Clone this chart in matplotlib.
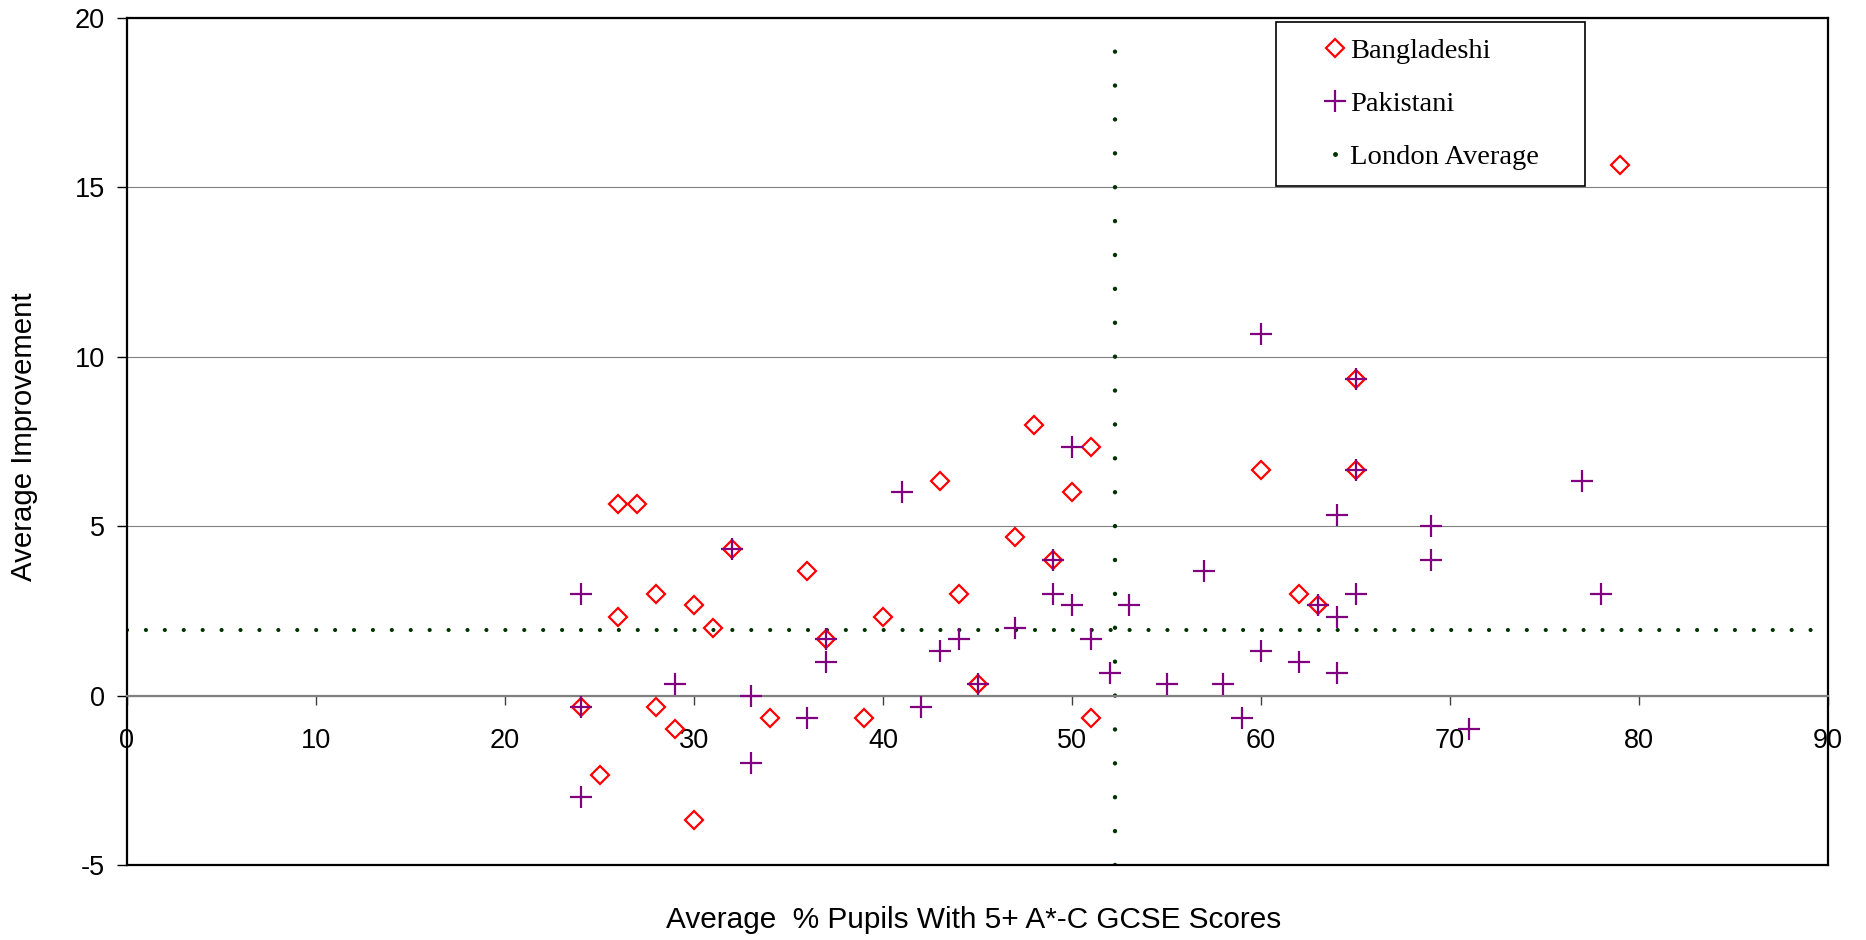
import matplotlib.pyplot as plt
from matplotlib.lines import Line2D


# Bangladeshi: % pupils with 5+ A*-C and average improvement
bang_x = [24, 25, 26, 26, 27, 28, 28, 29, 30, 30, 31, 32, 34, 36, 37, 39, 40,
          43, 44, 45, 47, 48, 49, 50, 51, 51, 60, 62, 63, 65, 65, 79]
bang_y = [-0.33, -2.33, 5.67, 2.33, 5.67, 3, -0.33, -1, 2.67, -3.67, 2, 4.33,
          -0.67, 3.67, 1.67, -0.67, 2.33, 6.33, 3, 0.33, 4.67, 8, 4, 6, 7.33,
          -0.67, 6.67, 3, 2.67, 9.33, 6.67, 15.67]

# Pakistani
pak_x = [24, 24, 24, 29, 32, 33, 33, 36, 37, 37, 41, 42, 43, 44, 45, 47, 49,
         49, 50, 50, 51, 52, 53, 55, 57, 58, 59, 60, 60, 62, 63, 64, 64, 64,
         65, 65, 65, 69, 69, 71, 77, 78]
pak_y = [3, -0.33, -3, 0.33, 4.33, 0, -2, -0.67, 1.67, 1, 6, -0.33, 1.33, 1.67,
         0.33, 2, 4, 3, 7.33, 2.67, 1.67, 0.67, 2.67, 0.33, 3.67, 0.33, -0.67,
         10.67, 1.33, 1, 2.67, 5.33, 2.33, 0.67, 9.33, 6.67, 3, 5, 4, -1, 6.33, 3]

# London average (x and y)
london_x = 52.25
london_y = 1.94

x_ticks = [0, 10, 20, 30, 40, 50, 60, 70, 80, 90]
y_ticks = [-5, 0, 5, 10, 15, 20]

plt.rcParams['font.family'] = ['Liberation Sans', 'DejaVu Sans']
plt.rcParams['lines.scale_dashes'] = False
plt.rcParams['axes.unicode_minus'] = False

W, H = 1866, 940
fig = plt.figure(figsize=(W / 100, H / 100), dpi=100)
ax = fig.add_axes([127 / W, 1 - 865 / H, (1828 - 127) / W, (865 - 18) / H])

ax.set_xlim(0, 90)
ax.set_ylim(-5, 20)

# gridlines
ax.set_axisbelow(True)
ax.yaxis.grid(True, color='#808080', lw=0.8)

# London average dotted cross, one dot per unit
green = '#003300'
ax.axvline(london_x, color=green, lw=3.2, linestyle=(0, (0.01, 24.39)),
           dash_capstyle='round', zorder=2)
ax.axhline(london_y, color=green, lw=3.0, linestyle=(0, (0.01, 13.61)),
           dash_capstyle='round', zorder=2)

ax.plot(bang_x, bang_y, linestyle='none', marker='D', markersize=8.8,
        markerfacecolor='none', markeredgecolor='#FF0000', markeredgewidth=1.6,
        zorder=3)
ax.plot(pak_x, pak_y, linestyle='none', marker='+', markersize=16,
        markeredgecolor='#800080', markeredgewidth=1.6, zorder=4)

# frame: x axis runs along y=0, box closed at y=-5
for s in ['left', 'top', 'right']:
    ax.spines[s].set_color('black')
    ax.spines[s].set_linewidth(1.6)
ax.spines['bottom'].set_position(('data', 0))
ax.spines['bottom'].set_color('#808080')
ax.spines['bottom'].set_linewidth(1.6)
ax.axhline(-5, color='black', lw=1.6, clip_on=False, zorder=5)

ax.set_xticks(x_ticks)
ax.set_yticks(y_ticks)
ax.tick_params(axis='x', direction='out', length=6.5, width=1, color='#404040',
               pad=16.5, labelsize=19.5)
ax.tick_params(axis='y', direction='out', length=7, width=1, color='black',
               pad=9, labelsize=19.5)

fig.text(974 / W, 1 - 920 / H, 'Average  % Pupils With 5+ A*-C GCSE Scores',
         ha='center', va='center', fontsize=21.4)
fig.text(24 / W, 1 - 437 / H, 'Average Improvement', rotation=90,
         ha='center', va='center', fontsize=21.2)

handles = [
    Line2D([], [], linestyle='none', marker='D', markersize=8.8,
           markerfacecolor='none', markeredgecolor='#FF0000', markeredgewidth=1.6),
    Line2D([], [], linestyle='none', marker='+', markersize=16,
           markeredgecolor='#800080', markeredgewidth=1.6),
    Line2D([], [], linestyle='none', marker='o', markersize=2.5,
           color=green),
]
labels = ['Bangladeshi', 'Pakistani', 'London Average']
leg = fig.legend(handles, labels, loc='upper left',
                 bbox_to_anchor=(1276 / W, 1 - 23 / H, (1585 - 1276) / W, 0.001),
                 mode='expand', borderaxespad=0, fancybox=False, framealpha=1,
                 edgecolor='black', numpoints=1, handlelength=3,
                 handletextpad=-0.95, borderpad=0.56, labelspacing=0.95,
                 prop={'family': 'Liberation Serif', 'size': 20.5})
leg.get_frame().set_linewidth(1.2)

fig.savefig('out.png', dpi=100)
